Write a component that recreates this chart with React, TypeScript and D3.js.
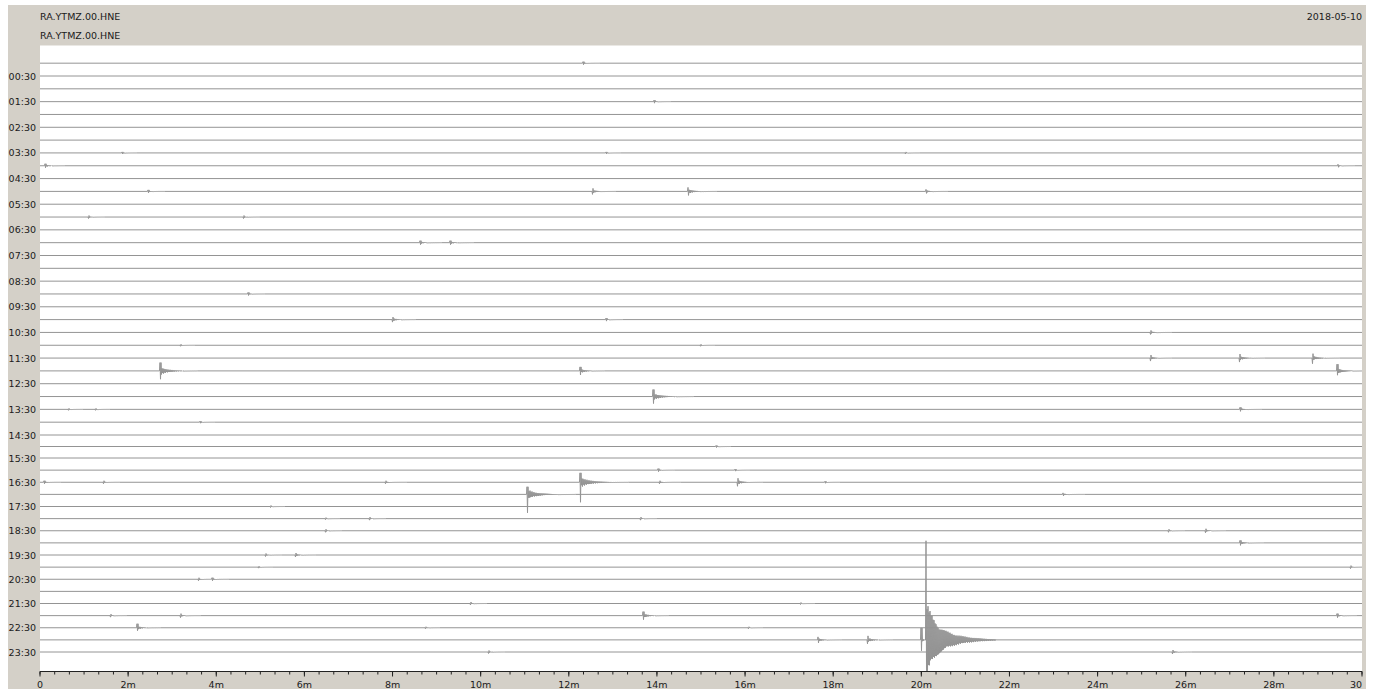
import React from 'react';
import * as d3 from 'd3';

const stationLabel = 'RA.YTMZ.00.HNE';
const dateLabel = '2018-05-10';
const lineCount = 48;
const hourLabels = [
  '00:30', '01:30', '02:30', '03:30', '04:30', '05:30', '06:30', '07:30',
  '08:30', '09:30', '10:30', '11:30', '12:30', '13:30', '14:30', '15:30',
  '16:30', '17:30', '18:30', '19:30', '20:30', '21:30', '22:30', '23:30',
];
const majorTicks = [0, 2, 4, 6, 8, 10, 12, 14, 16, 18, 20, 22, 24, 26, 28, 30];
const tickLabels = ['0', '2m', '4m', '6m', '8m', '10m', '12m', '14m', '16m', '18m', '20m', '22m', '24m', '26m', '28m', '30'];

// Events: line index (30-minute rows), onset minute,
// peak up / peak down / coda body amplitudes (counts) and coda length (seconds)
const eventLine = [
  0, 3, 7, 7, 7, 8, 8, 10, 10, 10, 10, 12, 12, 14, 14, 18, 20, 20, 21, 22, 22,
  23, 23, 23, 24, 24, 24, 26, 27, 27, 27, 28, 30, 32, 32,
  33, 33, 33, 33, 33, 33, 33, 34, 34, 35, 36, 36, 36, 37, 37, 37, 38, 39, 39,
  40, 40, 41, 41, 43, 43, 44, 44, 44, 44, 45, 45, 45, 46, 46, 46, 46, 47, 47,
];
const eventMinute = [
  12.32, 13.93, 1.86, 12.84, 19.63, 0.11, 29.45, 2.45, 12.53, 14.70, 20.10, 1.09, 4.61, 8.62, 9.30, 4.72, 7.99, 12.84, 25.19, 3.18, 14.98,
  25.19, 27.21, 28.87, 2.72, 12.25, 29.43, 13.91, 0.64, 1.25, 27.23, 3.63, 15.34, 14.02, 15.77,
  0.09, 1.43, 7.83, 12.25, 14.05, 15.82, 17.81, 11.05, 23.21, 5.22, 6.47, 7.47, 13.62, 6.47, 25.60, 26.44, 27.23, 5.11, 5.79,
  4.95, 29.73, 3.59, 3.90, 9.76, 17.25, 1.59, 3.18, 13.68, 29.43, 2.20, 8.74, 16.07, 17.65, 18.77, 19.99, 20.10, 10.17, 25.69,
];
const eventUp = [
  150, 150, 100, 100, 100, 200, 150, 150, 300, 400, 200, 150, 150, 200, 200, 150, 250, 150, 200, 100, 100,
  300, 400, 440, 830, 400, 670, 700, 100, 100, 200, 100, 100, 150, 100,
  150, 150, 150, 940, 150, 400, 100, 760, 150, 100, 100, 150, 150, 150, 150, 200, 250, 150, 200,
  100, 150, 150, 150, 150, 100, 150, 200, 400, 200, 400, 100, 100, 300, 400, 1200, 9900, 150, 200,
];
const eventDown = [
  150, 150, 100, 100, 100, 200, 150, 150, 300, 400, 200, 150, 150, 200, 200, 150, 250, 150, 200, 100, 100,
  300, 400, 560, 830, 400, 430, 700, 100, 100, 200, 100, 100, 150, 100,
  150, 150, 150, 2000, 150, 400, 100, 1840, 150, 100, 100, 150, 150, 150, 150, 200, 250, 150, 200,
  100, 150, 150, 150, 150, 100, 150, 200, 400, 200, 300, 100, 100, 300, 400, 1100, 3100, 150, 200,
];
const eventBody = [
  120, 120, 90, 90, 90, 160, 120, 120, 230, 290, 160, 120, 120, 160, 160, 120, 210, 120, 160, 90, 90,
  230, 290, 330, 520, 290, 380, 420, 90, 90, 160, 90, 90, 120, 90,
  120, 120, 120, 620, 120, 290, 90, 620, 120, 90, 90, 120, 120, 120, 120, 160, 210, 120, 160,
  90, 120, 120, 120, 120, 90, 120, 160, 290, 160, 230, 90, 90, 230, 290, 900, 5100, 120, 160,
];
const eventCoda = [
  18, 18, 16, 16, 16, 22, 18, 18, 26, 32, 24, 18, 18, 24, 26, 18, 26, 18, 24, 16, 16,
  24, 28, 30, 42, 28, 34, 45, 16, 16, 24, 16, 16, 18, 16,
  18, 18, 24, 55, 24, 28, 16, 55, 24, 16, 16, 18, 18, 18, 18, 22, 26, 18, 22,
  16, 18, 18, 18, 18, 16, 18, 22, 28, 22, 26, 16, 16, 26, 28, 6, 80, 18, 22,
];

const W = 1373;
const H = 689;
const plotLeft = 40;
const plotRight = 1362;
const plotTop = 45.5;
const plotBottom = 671.5;
const FONT = "'DejaVu Sans', sans-serif";

export default function App() {
  const x = d3.scaleLinear().domain([0, 30]).range([plotLeft, plotRight]);
  const yLine = d3.scaleLinear().domain([1, 29, 31, 47]).range([76, 435, 458, 652]);
  const amp = d3.scaleLinear().domain([0, 1000]).range([0, 10]);
  const minorTicks = d3.range(0, 30.0001, 1 / 3);

  const step = 0.5;
  const buildPath = (li: number) => {
    const y0 = yLine(li);
    const evs = eventLine.map((l, i) => (l === li ? i : -1)).filter((i) => i >= 0);
    const path = d3.path();
    path.moveTo(plotLeft, y0);
    if (evs.length === 0) {
      path.lineTo(plotRight, y0);
      return path.toString();
    }
    const info = evs.map((i) => {
      const x0 = x(eventMinute[i]);
      const L = x(eventMinute[i] + eventCoda[i] / 60) - x0;
      return { x0, L, U: amp(eventUp[i]), D: amp(eventDown[i]), B: amp(eventBody[i]) };
    });
    const ks = new Set<number>();
    info.forEach((e) => {
      const k0 = Math.floor((e.x0 - plotLeft) / step);
      const k1 = Math.ceil((e.x0 + 1.2 * e.L - plotLeft) / step);
      for (let k = k0; k <= k1; k++) {
        const xx = plotLeft + k * step;
        if (xx > plotLeft && xx < plotRight) ks.add(k);
      }
    });
    const sorted = Array.from(ks).sort((a, b) => a - b);
    let prev = -10;
    sorted.forEach((k) => {
      const xk = plotLeft + k * step;
      if (k !== prev + 1) {
        if (prev >= 0) path.lineTo(plotLeft + (prev + 1) * step, y0);
        path.lineTo(xk, y0);
      }
      const sign = k % 2 === 0 ? 1 : -1;
      let total = 0;
      info.forEach((e) => {
        const t = xk - e.x0;
        if (t < 0 || t > 1.2 * e.L) return;
        if (t < 1.2) {
          total += sign > 0 ? e.U : e.D;
        } else {
          const env = 0.4 * Math.exp(-t / (0.1 * e.L)) + 0.6 * Math.exp(-t / (0.32 * e.L));
          const v = 0.6 + 0.4 * Math.abs(Math.sin(k * 2.399) * Math.cos(k * 0.731 + li));
          total += e.B * env * v;
        }
      });
      path.lineTo(xk, y0 - sign * total);
      prev = k;
    });
    path.lineTo(Math.min(plotRight, plotLeft + (prev + 1) * step), y0);
    path.lineTo(plotRight, y0);
    return path.toString();
  };

  const lines = d3.range(lineCount);

  return (
    <div style={{ position: 'absolute', left: 0, top: 0 }}>
      <svg width={W} height={H} style={{ display: 'block', background: '#fff' }}>
        <defs>
          <clipPath id="plotclip">
            <rect x={plotLeft} y={plotTop} width={plotRight - plotLeft} height={plotBottom - plotTop} />
          </clipPath>
        </defs>
        <rect x={8} y={5} width={1358} height={H - 5} fill="#d4d0c8" />
        <rect x={plotLeft} y={plotTop} width={plotRight - plotLeft} height={plotBottom - plotTop} fill="#ffffff" />
        <g fontFamily={FONT} fontSize={9.5} fill="#1a1a1a">
          <text x={plotLeft} y={19.5}>{stationLabel}</text>
          <text x={plotLeft} y={38.5}>{stationLabel}</text>
          <text x={plotRight} y={19.5} textAnchor="end">{dateLabel}</text>
        </g>
        <g clipPath="url(#plotclip)" fill="none" stroke="#949494" strokeWidth={1}>
          {lines.map((li) => (
            <path key={li} d={buildPath(li)} />
          ))}
        </g>
        <g fontFamily={FONT} fontSize={9.5} fill="#1a1a1a" textAnchor="end">
          {hourLabels.map((lab, i) => (
            <text key={lab} x={36} y={yLine(2 * i + 1) + 3.5}>{lab}</text>
          ))}
        </g>
        <g stroke="#222" strokeWidth={1}>
          <line x1={plotLeft} x2={plotRight} y1={plotBottom} y2={plotBottom} />
          {minorTicks.map((m, i) => (
            <line key={i} x1={x(m)} x2={x(m)} y1={plotBottom} y2={plotBottom + 3} />
          ))}
          {majorTicks.map((m) => (
            <line key={m} x1={x(m)} x2={x(m)} y1={plotBottom} y2={plotBottom + 5} />
          ))}
        </g>
        <g fontFamily={FONT} fontSize={9.5} fill="#1a1a1a">
          {majorTicks.map((m, i) => (
            <text key={m} x={x(m)} y={688}
              textAnchor={i === majorTicks.length - 1 ? 'end' : 'middle'}>{tickLabels[i]}</text>
          ))}
        </g>
      </svg>
    </div>
  );
}
